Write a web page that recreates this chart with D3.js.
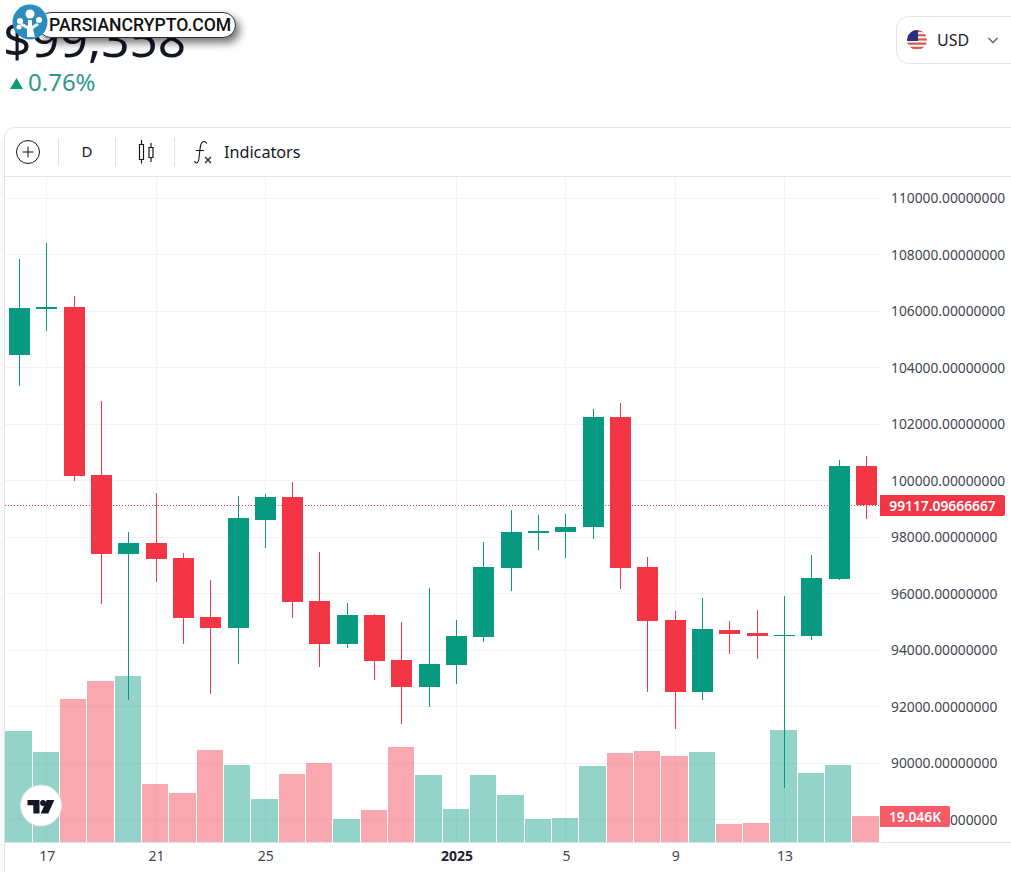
<!DOCTYPE html>
<html>
<head>
<meta charset="utf-8">
<script src="https://cdn.jsdelivr.net/npm/d3@7"></script>
<style>
  html, body { margin: 0; padding: 0; background: #fff; overflow: hidden; }
  svg { display: block; font-family: "Noto Sans", sans-serif; }
</style>
</head>
<body>
<svg id="chart" width="1011" height="872"></svg>
<script>
// candles, one per day, starting 16 Dec 2024
const opens = [104437, 106067, 106138, 100186, 97387, 97777, 97245, 95155, 94765, 98591, 99407, 95722, 94198, 95226, 93631, 92675, 93454, 94446, 96891, 98131, 98166, 98343, 102241, 96926, 95048, 92498, 94694, 94588, 94482, 94482, 96501, 100505];
const highs = [107839, 108406, 106528, 102808, 98166, 99548, 97423, 96466, 99442, 99513, 99938, 97458, 95651, 95261, 94977, 96183, 95048, 97812, 98946, 98769, 98804, 102524, 102737, 97281, 95367, 95828, 95013, 95403, 95899, 97351, 100717, 100859];
const lows = [103339, 105288, 99973, 95615, 92214, 96395, 94198, 92427, 93490, 97600, 95119, 93383, 94057, 92922, 91364, 91966, 92781, 94269, 96076, 97529, 97245, 97918, 96147, 92498, 91187, 92214, 93844, 93667, 89097, 94340, 96466, 98627];
const closes = [106103, 106138, 100150, 97387, 97777, 97210, 95119, 94765, 98662, 99407, 95686, 94198, 95226, 93596, 92675, 93490, 94482, 96926, 98166, 98202, 98343, 102241, 96891, 95013, 92498, 94730, 94553, 94482, 94517, 96537, 100505, 99117];
// volume in K
const volumes = [81.3, 65.9, 104.7, 117.9, 121.6, 42.5, 35.9, 67.4, 56.4, 31.5, 49.8, 57.9, 16.8, 23.4, 69.6, 49.1, 24.2, 49.1, 34.4, 16.8, 17.6, 55.7, 65.2, 66.7, 63.0, 65.9, 13.2, 13.9, 82.0, 50.5, 56.4, 19.046];
// green volume bars do not always follow the candle colour
const volumeUp = [1, 1, 0, 0, 1, 0, 0, 0, 1, 1, 0, 0, 1, 0, 0, 1, 1, 1, 1, 1, 1, 1, 0, 0, 0, 1, 0, 0, 1, 1, 1, 0];

const priceTicks = [110000, 108000, 106000, 104000, 102000, 100000, 98000, 96000, 94000, 92000, 90000, 88000];
const dateTickIndex = [1, 5, 9, 16, 20, 24, 28];
const dateTickLabels = ['17', '21', '25', '2025', '5', '9', '13'];
const lastPrice = 99117.09666667;
const lastVolume = '19.046K';

const GREEN = '#089981', RED = '#f23645', LINE = '#e0e3eb', GRID = '#f2f3f5';
const plot = { left: 5, right: 880, top: 177, bottom: 842 };

const svg = d3.select('#chart');

// scales
const x = d3.scaleLinear().domain([0, 31]).range([19.45, 866.45]);
const y = d3.scaleLinear().domain([88000, 110000]).range([819.2, 198]);
const yVol = d3.scaleLinear().domain([0, 100]).range([plot.bottom, plot.bottom - 136.5]);

svg.append('defs').append('clipPath').attr('id', 'plot-clip').append('rect')
  .attr('x', plot.left).attr('y', plot.top)
  .attr('width', plot.right - plot.left).attr('height', plot.bottom - plot.top);

drawHeader();
drawToolbar();

// grid
const grid = svg.append('g');
grid.selectAll('.h').data(priceTicks).join('rect').attr('class', 'h')
  .attr('x', plot.left).attr('width', plot.right - plot.left)
  .attr('y', d => Math.round(y(d))).attr('height', 1).attr('fill', GRID);
grid.selectAll('.v').data(dateTickIndex).join('rect').attr('class', 'v')
  .attr('x', d => Math.round(x(d) - 0.5)).attr('width', 1)
  .attr('y', plot.top).attr('height', plot.bottom - plot.top).attr('fill', GRID);

const pane = svg.append('g').attr('clip-path', 'url(#plot-clip)');

// volume
const volLeft = i => Math.round(x(i) - 14);
pane.selectAll('.vol').data(volumes).join('rect').attr('class', 'vol')
  .attr('x', (d, i) => volLeft(i))
  .attr('width', (d, i) => volLeft(i + 1) - volLeft(i) - 1)
  .attr('y', d => Math.round(yVol(d)))
  .attr('height', d => plot.bottom - Math.round(yVol(d)))
  .attr('fill', (d, i) => volumeUp[i] ? GREEN : RED)
  .attr('fill-opacity', 0.43);

// last price line
pane.append('line')
  .attr('x1', plot.left).attr('x2', plot.right)
  .attr('y1', Math.round(y(lastPrice)) + 0.5).attr('y2', Math.round(y(lastPrice)) + 0.5)
  .attr('stroke', RED).attr('stroke-width', 1).attr('stroke-dasharray', '1 2');

// candles
const candles = pane.selectAll('.candle').data(d3.range(opens.length)).join('g').attr('class', 'candle')
  .attr('fill', i => closes[i] >= opens[i] ? GREEN : RED);
candles.append('rect')
  .attr('x', i => Math.round(x(i) - 10.5) + 10).attr('width', 1)
  .attr('y', i => Math.round(y(highs[i])))
  .attr('height', i => Math.round(y(lows[i])) - Math.round(y(highs[i])));
candles.append('rect')
  .attr('x', i => Math.round(x(i) - 10.5)).attr('width', 21)
  .attr('y', i => Math.round(y(Math.max(opens[i], closes[i]))))
  .attr('height', i => Math.max(1, Math.round(y(Math.min(opens[i], closes[i]))) - Math.round(y(Math.max(opens[i], closes[i])))));

// axes
const yAxis = d3.axisRight(y).tickValues(priceTicks).tickSize(0).tickPadding(0).tickFormat(d3.format('.8f'));
const yGroup = svg.append('g').attr('transform', 'translate(891,0.5)').call(yAxis);
yGroup.select('.domain').remove();
yGroup.selectAll('text').attr('font-family', '"Noto Sans"').attr('font-size', 13.8).attr('fill', '#434651');

const xAxis = d3.axisBottom(x).tickValues(dateTickIndex).tickSize(0).tickPadding(0)
  .tickFormat((d, i) => dateTickLabels[i]);
const xGroup = svg.append('g').attr('transform', `translate(0,${plot.bottom + 9})`).call(xAxis);
xGroup.select('.domain').remove();
xGroup.selectAll('text').attr('font-family', '"Noto Sans"').attr('font-size', 14)
  .attr('font-weight', (d, i) => dateTickLabels[i] === '2025' ? 700 : 400)
  .attr('fill', (d, i) => dateTickLabels[i] === '2025' ? '#1e222d' : '#434651');

svg.append('rect').attr('x', plot.left).attr('y', plot.bottom).attr('width', plot.right - plot.left).attr('height', 1).attr('fill', LINE);
svg.append('rect').attr('x', plot.right + 1).attr('y', plot.bottom).attr('width', 1011 - plot.right).attr('height', 1).attr('fill', LINE);

// price and volume tags
tag(880, 495, 125, 21, RED, d3.format('.8f')(lastPrice));
tag(880, 806, 70, 21, '#f85a69', lastVolume);

function tag(tx, ty, w, h, fill, label) {
  const g = svg.append('g');
  g.append('path')
    .attr('d', `M${tx},${ty}h${w - 2}q2,0 2,2v${h - 4}q0,2 -2,2h${2 - w}z`)
    .attr('fill', fill);
  g.append('text').attr('x', tx + w / 2).attr('y', ty + h / 2 + 5)
    .attr('text-anchor', 'middle').attr('fill', '#fff')
    .attr('font-size', 13.8).attr('font-weight', 600).text(label);
}

// tradingview badge
const tv = svg.append('g');
tv.append('circle').attr('cx', 41).attr('cy', 805.5).attr('r', 20.5).attr('fill', '#fff').attr('stroke', LINE).attr('stroke-width', 1);
tv.append('path').attr('fill', '#131722')
  .attr('d', 'M27.5,800h12v13.5h-6.2v-8.3h-5.8z M46.7,800h7.6l-6,13.5h-7.6z');
tv.append('circle').attr('cx', 43).attr('cy', 803).attr('r', 2.9).attr('fill', '#131722');

function drawHeader() {
  svg.append('text').attr('x', 3).attr('y', 57).attr('font-size', 49.5).attr('fill', '#131722').text('$99,358');

  // watermark pill over the price
  const defs = svg.select('defs');
  const f = defs.append('filter').attr('id', 'pill-shadow').attr('x', '-10%').attr('y', '-40%').attr('width', '125%').attr('height', '220%');
  f.append('feDropShadow').attr('dx', 4).attr('dy', 5).attr('stdDeviation', 4).attr('flood-color', '#000').attr('flood-opacity', 0.55);
  svg.append('rect').attr('x', 38.5).attr('y', 12.5).attr('width', 197).attr('height', 25).attr('rx', 12.5)
    .attr('fill', '#fff').attr('stroke', '#333').attr('filter', 'url(#pill-shadow)');
  svg.append('text').attr('x', 49).attr('y', 31).attr('font-family', 'Roboto').attr('font-size', 17.6).attr('font-weight', 500).attr('fill', '#111').text('PARSIANCRYPTO.COM');
  svg.append('circle').attr('cx', 30).attr('cy', 22).attr('r', 17.5).attr('fill', '#2a8dbd');
  svg.append('path').attr('fill', '#fff').attr('d', 'M27,37 L27,29 L20,25 L22,23 L28,26 L28,20 L32,20 L32,26 L37,23 L39,25 L33,29 L35,37 Z');
  [[30, 14, 4.5], [20, 21, 3], [39, 20, 3], [19, 27, 2.5]].forEach(c => {
    svg.append('circle').attr('cx', c[0]).attr('cy', c[1]).attr('r', c[2]).attr('fill', '#fff');
  });

  // change
  svg.append('path').attr('d', 'M10,89 L16.5,78 L23,89 Z').attr('fill', '#0a9c74');
  svg.append('text').attr('x', 28).attr('y', 91).attr('font-size', 24).attr('fill', '#2f9a87').text('0.76%');

  // currency select
  svg.append('rect').attr('x', 896.5).attr('y', 16.5).attr('width', 130).attr('height', 47).attr('rx', 12)
    .attr('fill', '#fff').attr('stroke', LINE);
  defs.append('clipPath').attr('id', 'flag-clip').append('circle').attr('cx', 917).attr('cy', 40).attr('r', 10);
  const fg = svg.append('g').attr('clip-path', 'url(#flag-clip)');
  fg.append('rect').attr('x', 907).attr('y', 30).attr('width', 20).attr('height', 20).attr('fill', '#f4f4f4');
  d3.range(5).forEach(k => {
    fg.append('rect').attr('x', 907).attr('y', 30 + k * 4.2).attr('width', 20).attr('height', 2.1).attr('fill', '#d8574a');
  });
  fg.append('rect').attr('x', 907).attr('y', 30).attr('width', 11).attr('height', 11).attr('fill', '#27307f');
  svg.append('text').attr('x', 937).attr('y', 46).attr('font-size', 16).attr('fill', '#1e222d').text('USD');
  svg.append('path').attr('d', 'M988.5,38 L993,42.5 L997.5,38').attr('fill', 'none').attr('stroke', '#6a6d78').attr('stroke-width', 1.6);
}

function drawToolbar() {
  // faint strip left of the card
  svg.append('rect').attr('x', 0).attr('y', 140).attr('width', 4).attr('height', 732).attr('fill', '#f8f9fa');

  // card outline, it runs off the right side of the window
  svg.append('path').attr('d', 'M4.5,872V137.5a10,10 0 0 1 10,-10H1011')
    .attr('fill', 'none').attr('stroke', LINE);
  svg.append('rect').attr('x', 4).attr('y', 176).attr('width', 1007).attr('height', 1).attr('fill', LINE);

  [58, 115, 174].forEach(sx => {
    svg.append('rect').attr('x', sx).attr('y', 138).attr('width', 1).attr('height', 28).attr('fill', LINE);
  });

  svg.append('circle').attr('cx', 28).attr('cy', 152).attr('r', 11.5).attr('fill', 'none').attr('stroke', '#131722');
  svg.append('path').attr('d', 'M22.5,152H33.5M28,146.5V157.5').attr('stroke', '#131722').attr('fill', 'none');

  svg.append('text').attr('x', 87).attr('y', 157).attr('text-anchor', 'middle').attr('font-size', 15).attr('fill', '#131722').text('D');

  svg.append('path').attr('fill', 'none').attr('stroke', '#131722').attr('stroke-width', 1.2)
    .attr('d', 'M139.5,144.5h4v15h-4z M141.5,140v4.5 M141.5,159.5v4 M149,147.5h4v10h-4z M151,143v4.5 M151,157.5v4.5');

  // fx icon
  svg.append('path').attr('fill', 'none').attr('stroke', '#131722').attr('stroke-width', 1.1)
    .attr('d', 'M207,143.5C203,139 200.5,143 200,149L199,158C198.3,164 195.5,164 194.5,161 M196,150.5H204 M205,157l6,6 M211,157l-6,6');

  svg.append('text').attr('x', 224).attr('y', 157.5).attr('font-size', 16.2).attr('fill', '#131722').text('Indicators');
}
</script>
</body>
</html>
